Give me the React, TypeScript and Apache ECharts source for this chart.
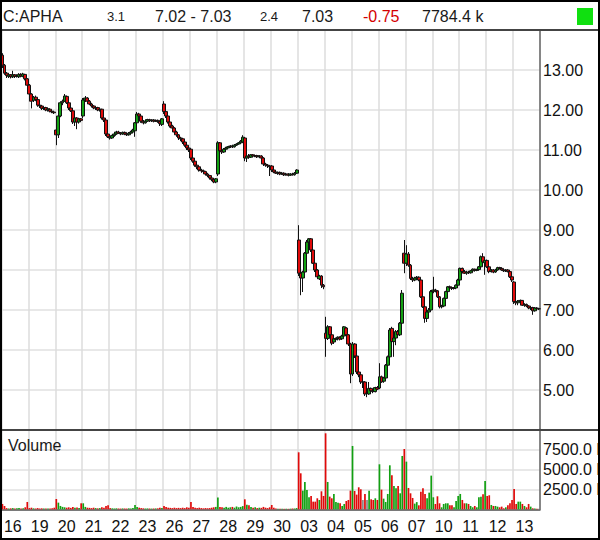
import React, { useEffect, useRef } from 'react';
import * as echarts from 'echarts';

// Trading-day labels shown under the chart (one per day, 13 intraday bars each)
const dayLabels = ['16', '19', '20', '21', '22', '23', '26', '27', '28', '29', '30', '03', '04', '05', '06', '07', '10', '11', '12', '13'];
const barsPerDay = 13;

// Each bar: [open, close, low, high]
const ohlc: number[][] = [
  // 16
  [13.37, 13.12, 13.05, 13.42], [13.12, 12.92, 12.88, 13.15], [12.92, 12.86, 12.80, 12.95], [12.84, 12.88, 12.80, 12.92],
  [12.88, 12.83, 12.79, 12.90], [12.83, 12.88, 12.80, 12.98], [12.88, 12.84, 12.80, 12.90], [12.84, 12.86, 12.81, 12.89],
  [12.83, 12.89, 12.80, 12.92], [12.89, 12.85, 12.82, 12.92], [12.84, 12.90, 12.82, 12.93], [12.89, 12.78, 12.74, 12.90],
  [12.78, 12.62, 12.58, 12.80],
  // 19
  [12.62, 12.40, 12.35, 12.65], [12.40, 12.22, 12.04, 12.42], [12.24, 12.32, 12.20, 12.35], [12.32, 12.26, 12.22, 12.36],
  [12.26, 12.12, 12.08, 12.28], [12.12, 12.10, 12.05, 12.16], [12.10, 12.04, 12.00, 12.12], [12.04, 12.06, 12.00, 12.09],
  [12.06, 12.00, 11.97, 12.08], [12.00, 12.03, 11.96, 12.05], [12.02, 11.97, 11.94, 12.04], [11.97, 11.95, 11.92, 12.00],
  [11.95, 11.93, 11.90, 11.98],
  // 20
  [11.50, 11.38, 11.12, 11.55], [11.38, 11.85, 11.30, 11.90], [11.85, 12.18, 11.82, 12.22], [12.18, 12.22, 12.12, 12.26],
  [12.22, 12.35, 12.20, 12.40], [12.34, 12.18, 12.15, 12.36], [12.18, 12.05, 12.00, 12.20], [12.05, 11.98, 11.95, 12.08],
  [11.98, 11.70, 11.65, 12.00], [11.70, 11.80, 11.60, 11.82], [11.80, 11.70, 11.52, 11.82], [11.70, 11.78, 11.66, 11.80],
  [11.78, 11.74, 11.70, 11.80],
  // 21
  [11.85, 12.25, 11.80, 12.30], [12.25, 12.30, 12.20, 12.35], [12.30, 12.22, 12.18, 12.32], [12.22, 12.15, 12.12, 12.25],
  [12.15, 12.10, 12.06, 12.18], [12.10, 12.05, 12.02, 12.12], [12.05, 12.06, 12.00, 12.09], [12.06, 12.00, 11.97, 12.08],
  [12.00, 12.02, 11.96, 12.04], [12.02, 11.80, 11.76, 12.03], [11.80, 11.75, 11.70, 11.82], [11.75, 11.40, 11.35, 11.76],
  [11.40, 11.33, 11.30, 11.43],
  // 22
  [11.33, 11.30, 11.26, 11.36], [11.30, 11.36, 11.28, 11.38], [11.36, 11.40, 11.33, 11.43], [11.40, 11.45, 11.38, 11.48],
  [11.45, 11.42, 11.40, 11.48], [11.42, 11.40, 11.37, 11.45], [11.40, 11.44, 11.38, 11.46], [11.44, 11.40, 11.37, 11.46],
  [11.40, 11.38, 11.35, 11.42], [11.38, 11.42, 11.36, 11.45], [11.42, 11.45, 11.40, 11.48], [11.45, 11.50, 11.43, 11.53],
  [11.48, 11.68, 11.33, 11.70],
  // 23
  [11.68, 11.90, 11.65, 11.95], [11.90, 11.85, 11.80, 11.93], [11.85, 11.72, 11.68, 11.87], [11.72, 11.68, 11.64, 11.75],
  [11.68, 11.72, 11.66, 11.75], [11.72, 11.76, 11.70, 11.78], [11.76, 11.73, 11.70, 11.78], [11.73, 11.75, 11.70, 11.77],
  [11.75, 11.72, 11.69, 11.77], [11.72, 11.74, 11.70, 11.76], [11.74, 11.71, 11.68, 11.76], [11.71, 11.66, 11.60, 11.73],
  [11.64, 11.78, 11.60, 11.80],
  // 26
  [12.15, 11.96, 11.90, 12.22], [11.96, 11.85, 11.80, 11.98], [11.85, 11.70, 11.66, 11.88], [11.70, 11.60, 11.56, 11.72],
  [11.60, 11.55, 11.50, 11.63], [11.55, 11.45, 11.40, 11.57], [11.45, 11.38, 11.33, 11.48], [11.38, 11.30, 11.25, 11.40],
  [11.30, 11.28, 11.22, 11.33], [11.28, 11.20, 11.15, 11.30], [11.20, 11.12, 11.08, 11.22], [11.12, 11.05, 11.00, 11.15],
  [11.05, 11.00, 10.95, 11.08],
  // 27
  [11.02, 10.80, 10.75, 11.04], [10.80, 10.72, 10.68, 10.83], [10.72, 10.62, 10.58, 10.75], [10.62, 10.58, 10.52, 10.65],
  [10.58, 10.50, 10.46, 10.60], [10.50, 10.48, 10.43, 10.53], [10.48, 10.46, 10.42, 10.51], [10.46, 10.40, 10.36, 10.48],
  [10.40, 10.36, 10.32, 10.43], [10.36, 10.30, 10.26, 10.38], [10.30, 10.26, 10.22, 10.33], [10.26, 10.20, 10.17, 10.28],
  [10.20, 10.28, 10.17, 10.30],
  // 28
  [10.40, 11.18, 10.35, 11.22], [11.18, 10.98, 10.95, 11.20], [10.98, 10.95, 10.90, 11.02], [10.95, 11.02, 10.93, 11.05],
  [11.02, 11.05, 11.00, 11.08], [11.05, 11.08, 11.03, 11.10], [11.08, 11.10, 11.05, 11.12], [11.10, 11.08, 11.05, 11.13],
  [11.08, 11.12, 11.06, 11.15], [11.12, 11.15, 11.10, 11.17], [11.15, 11.18, 11.13, 11.20], [11.18, 11.22, 11.16, 11.25],
  [11.20, 11.32, 11.18, 11.37],
  // 29
  [11.30, 10.80, 10.72, 11.32], [10.80, 10.85, 10.70, 10.88], [10.85, 10.82, 10.78, 10.90], [10.82, 10.88, 10.80, 10.90],
  [10.88, 10.85, 10.82, 10.90], [10.85, 10.86, 10.82, 10.88], [10.86, 10.83, 10.80, 10.88], [10.83, 10.85, 10.80, 10.87],
  [10.85, 10.80, 10.77, 10.87], [10.80, 10.65, 10.60, 10.82], [10.65, 10.62, 10.58, 10.68], [10.62, 10.60, 10.55, 10.65],
  [10.60, 10.58, 10.35, 10.62],
  // 30
  [10.60, 10.50, 10.45, 10.62], [10.50, 10.45, 10.42, 10.53], [10.45, 10.42, 10.40, 10.48], [10.42, 10.44, 10.38, 10.46],
  [10.44, 10.40, 10.37, 10.46], [10.40, 10.42, 10.38, 10.44], [10.42, 10.38, 10.35, 10.44], [10.38, 10.40, 10.36, 10.42],
  [10.40, 10.37, 10.34, 10.42], [10.37, 10.40, 10.35, 10.42], [10.40, 10.38, 10.36, 10.43], [10.38, 10.42, 10.36, 10.45],
  [10.42, 10.50, 10.40, 10.52],
  // 03
  [8.75, 7.92, 7.85, 9.12], [7.92, 7.80, 7.37, 7.97], [7.80, 7.95, 7.45, 7.98], [7.95, 8.42, 7.90, 8.45],
  [8.42, 8.70, 8.40, 8.75], [8.70, 8.78, 8.55, 8.80], [8.78, 8.50, 8.45, 8.80], [8.50, 8.17, 8.15, 8.52],
  [8.17, 8.00, 7.95, 8.20], [8.00, 7.83, 7.78, 8.02], [7.78, 7.85, 7.75, 7.88], [7.85, 7.62, 7.55, 7.87],
  [7.62, 7.58, 7.52, 7.65],
  // 04
  [6.42, 6.29, 5.83, 6.83], [6.29, 6.58, 6.25, 6.62], [6.58, 6.38, 6.35, 6.60], [6.38, 6.17, 6.12, 6.40],
  [6.20, 6.28, 6.15, 6.30], [6.26, 6.29, 6.22, 6.31], [6.29, 6.32, 6.24, 6.34], [6.32, 6.27, 6.24, 6.34],
  [6.28, 6.35, 6.25, 6.38], [6.35, 6.58, 6.33, 6.60], [6.55, 6.38, 6.35, 6.57], [6.38, 6.15, 6.10, 6.40],
  [6.15, 5.40, 5.17, 6.18],
  // 05
  [5.40, 6.15, 5.35, 6.20], [6.15, 5.85, 5.80, 6.17], [5.85, 5.45, 5.40, 5.88], [5.45, 5.38, 5.32, 5.50],
  [5.38, 5.20, 5.15, 5.42], [5.20, 5.20, 5.05, 5.22], [5.20, 4.90, 4.85, 5.22], [4.92, 4.92, 4.82, 5.06],
  [4.90, 5.04, 4.88, 5.20], [5.04, 4.98, 4.95, 5.06], [4.98, 4.96, 4.92, 5.00], [4.96, 5.06, 4.94, 5.08],
  [5.06, 5.02, 5.00, 5.10],
  // 06
  [5.05, 5.33, 5.02, 5.67], [5.33, 5.20, 5.18, 5.36], [5.22, 5.30, 5.18, 5.33], [5.30, 5.62, 5.28, 5.65],
  [5.62, 5.83, 5.55, 5.86], [5.83, 6.50, 5.80, 6.55], [6.54, 6.21, 6.18, 6.58], [6.21, 6.30, 5.83, 6.35],
  [6.30, 6.46, 6.12, 6.50], [6.46, 6.38, 6.35, 6.50], [6.38, 6.67, 6.35, 6.70], [6.67, 7.42, 6.65, 7.50],
  [8.42, 8.17, 7.92, 8.75],
  // 07
  [8.17, 8.40, 8.10, 8.62], [8.40, 8.12, 8.08, 8.45], [8.12, 7.79, 7.75, 8.15], [7.79, 7.75, 7.70, 7.83],
  [7.75, 7.80, 7.72, 7.83], [7.80, 7.82, 7.76, 7.85], [7.82, 7.75, 7.72, 7.84], [7.75, 7.33, 7.30, 7.78],
  [7.33, 7.08, 7.05, 7.36], [7.08, 6.79, 6.68, 7.10], [6.79, 6.95, 6.70, 6.98], [6.95, 7.00, 6.90, 7.05],
  [7.00, 7.46, 6.98, 7.50],
  // 10
  [7.46, 7.50, 7.42, 7.83], [7.50, 7.48, 7.44, 7.53], [7.48, 7.33, 7.30, 7.50], [7.33, 7.08, 7.04, 7.35],
  [7.08, 7.10, 7.04, 7.13], [7.10, 7.29, 7.08, 7.31], [7.29, 7.46, 7.27, 7.48], [7.46, 7.58, 7.44, 7.60],
  [7.58, 7.56, 7.53, 7.61], [7.56, 7.54, 7.50, 7.58], [7.54, 7.55, 7.51, 7.57], [7.55, 7.62, 7.52, 7.64],
  [7.62, 7.75, 7.60, 7.78],
  // 11
  [7.75, 8.04, 7.72, 8.06], [8.04, 7.96, 7.94, 8.06], [7.96, 7.92, 7.90, 8.00], [7.92, 7.95, 7.88, 7.98],
  [7.95, 7.93, 7.90, 7.98], [7.93, 7.98, 7.91, 8.00], [7.98, 8.02, 7.96, 8.04], [8.02, 7.99, 7.96, 8.03],
  [7.99, 8.01, 7.97, 8.03], [8.01, 8.08, 7.99, 8.10], [8.08, 8.33, 8.06, 8.36], [8.33, 8.20, 8.15, 8.42],
  [8.18, 8.24, 7.88, 8.28],
  // 12
  [8.24, 8.08, 8.05, 8.26], [8.08, 7.96, 7.92, 8.10], [7.96, 8.00, 7.94, 8.02], [8.00, 7.95, 7.92, 8.02],
  [7.95, 8.00, 7.93, 8.03], [8.00, 8.06, 7.98, 8.08], [8.06, 8.04, 8.01, 8.08], [8.04, 8.00, 7.98, 8.06],
  [8.00, 7.98, 7.95, 8.02], [7.98, 8.00, 7.95, 8.02], [8.00, 7.96, 7.94, 8.02], [7.96, 7.83, 7.80, 7.98],
  [7.83, 7.75, 7.70, 7.85],
  // 13
  [7.70, 7.21, 7.15, 7.72], [7.21, 7.18, 7.12, 7.25], [7.18, 7.22, 7.12, 7.25], [7.22, 7.24, 7.15, 7.26],
  [7.24, 7.12, 7.10, 7.25], [7.12, 7.14, 7.08, 7.17], [7.14, 7.10, 7.07, 7.16], [7.10, 7.05, 7.02, 7.12],
  [7.05, 7.06, 7.00, 7.08], [7.06, 6.98, 6.88, 7.08], [6.98, 7.05, 6.96, 7.07], [7.05, 7.03, 7.00, 7.07],
  [7.03, 7.03, 7.00, 7.05],
];

// Volume per bar, in thousands
const volumes: number[] = [
  667, 420, 150, 100, 120, 150, 100, 120, 150, 100, 130, 250, 917,
  150, 200, 120, 100, 150, 100, 120, 100, 90, 110, 100, 130, 200,
  1290, 833, 420, 300, 250, 200, 250, 180, 300, 200, 220, 150, 750,
  750, 300, 200, 180, 150, 200, 150, 120, 150, 250, 200, 400, 500,
  150, 120, 100, 120, 100, 90, 110, 100, 90, 120, 100, 150, 540,
  300, 200, 150, 120, 100, 110, 100, 90, 100, 110, 120, 200, 150,
  417, 300, 200, 180, 150, 200, 150, 180, 150, 200, 150, 250, 200,
  917, 300, 200, 150, 200, 150, 120, 150, 130, 150, 200, 250, 300,
  1460, 300, 250, 200, 300, 200, 250, 300, 200, 350, 250, 300, 400,
  1250, 583, 500, 300, 200, 250, 150, 200, 180, 300, 200, 150, 250,
  540, 200, 100, 80, 60, 80, 60, 70, 60, 80, 100, 100, 150,
  7125, 4500, 2333, 3417, 2417, 1500, 1667, 958, 958, 1375, 1167, 2250, 1667,
  9500, 3417, 1583, 1375, 1917, 917, 833, 750, 417, 667, 1040, 1167, 2333,
  7917, 2292, 1833, 2750, 2500, 1167, 1917, 1167, 2333, 1250, 1167, 1375, 1167,
  5625, 2458, 1333, 917, 1917, 5500, 4250, 2917, 2625, 2917, 2000, 6667, 7540,
  5958, 2667, 2000, 1417, 708, 900, 500, 2208, 2625, 1917, 1375, 2083, 4208,
  1500, 667, 1625, 750, 250, 667, 750, 750, 500, 500, 250, 1040, 1667,
  1917, 1167, 750, 750, 667, 417, 250, 417, 250, 1500, 1583, 1875, 3540,
  1667, 1750, 542, 417, 417, 333, 250, 333, 125, 250, 500, 750, 1167,
  2540, 667, 958, 958, 667, 417, 250, 667, 333, 125, 100, 80, 60,
];

// Axis ranges
const priceMin = 4;
const priceMax = 14;
const priceStep = 1;
const volMin = 0;
const volMax = 10000;
const volStep = 2500;

// Header quote fields
const symbol = 'C:APHA';
const bidSize = '3.1';
const bidAsk = '7.02 - 7.03';
const askSize = '2.4';
const lastPrice = '7.03';
const change = '-0.75';
const totalVolume = '7784.4 k';

const FONT = '"Liberation Sans", Arial, Helvetica, sans-serif';
const UP = '#12a012';
const DOWN = '#e00a0a';

export default function App() {
  const ref = useRef<HTMLDivElement>(null);

  useEffect(() => {
    if (!ref.current) return;
    const chart = echarts.init(ref.current, undefined, { renderer: 'svg' });
    const cats = ohlc.map((_, i) => dayLabels[Math.floor(i / barsPerDay)] + '|' + (i % barsPerDay));
    const gridLineStyle = { color: '#dcdcdc', width: 1.5 };
    const volData = volumes.map((v, i) => {
      const c = ohlc[i];
      const col = c[1] > c[0] ? UP : c[1] < c[0] ? DOWN : '#8a8a8a';
      return { value: v, itemStyle: { color: col } };
    });

    const headerText = (text: string, x: number, size: number, color = '#1a1a1a') => ({
      type: 'text',
      z: 100,
      style: {
        text, x, y: 16, fill: color, fontSize: size, fontFamily: FONT,
        textVerticalAlign: 'middle', verticalAlign: 'middle',
      },
    });

    chart.setOption({
      animation: false,
      backgroundColor: '#ffffff',
      textStyle: { fontFamily: FONT },
      grid: [
        { left: 1.4, right: 60, top: 30, height: 400, containLabel: false, outerBoundsMode: 'none' },
        { left: 1.4, right: 60, top: 429.3, height: 80, containLabel: false, outerBoundsMode: 'none' },
      ],
      xAxis: [
        {
          type: 'category', gridIndex: 0, data: cats, boundaryGap: true,
          axisLine: { show: false }, axisTick: { show: false }, axisLabel: { show: false },
          splitLine: { show: true, interval: (i: number) => i % barsPerDay === 0, lineStyle: gridLineStyle },
        },
        {
          type: 'category', gridIndex: 1, data: cats, boundaryGap: true,
          axisLine: { show: true, onZero: false, lineStyle: { color: '#555', width: 1.5 } },
          axisTick: { show: false },
          axisLabel: {
            interval: (i: number) => i % barsPerDay === 5,
            formatter: (v: string) => v.split('|')[0],
            fontSize: 16, color: '#111', margin: 9, fontFamily: FONT,
          },
          splitLine: { show: true, interval: (i: number) => i % barsPerDay === 0, lineStyle: gridLineStyle },
        },
      ],
      yAxis: [
        {
          type: 'value', gridIndex: 0, position: 'right', min: priceMin, max: priceMax, interval: priceStep,
          axisLine: { show: true, lineStyle: { color: '#666', width: 1.5 } },
          axisTick: { show: false },
          axisLabel: {
            formatter: (v: number) => v.toFixed(2), fontSize: 16, color: '#111', margin: 3,
            showMinLabel: false, showMaxLabel: false, fontFamily: FONT,
          },
          splitLine: { show: true, lineStyle: { color: '#e0e0e0', width: 1.5 } },
        },
        {
          type: 'value', gridIndex: 1, position: 'right', min: volMin, max: volMax, interval: volStep,
          axisLine: { show: true, lineStyle: { color: '#666', width: 1.5 } },
          axisTick: { show: false },
          axisLabel: {
            formatter: (v: number) => v.toFixed(1) + ' k', fontSize: 16, color: '#111', margin: 3,
            showMinLabel: false, showMaxLabel: false, fontFamily: FONT,
          },
          splitLine: { show: true, lineStyle: { color: '#e0e0e0', width: 1.5 } },
        },
      ],
      series: [
        {
          type: 'candlestick', xAxisIndex: 0, yAxisIndex: 0, data: ohlc, barWidth: 3.4,
          itemStyle: { color: UP, color0: DOWN, borderColor: '#111', borderColor0: '#111', borderWidth: 1 },
        },
        {
          type: 'bar', xAxisIndex: 1, yAxisIndex: 1, data: volData, barWidth: 1.7,
        },
      ],
      graphic: [
        headerText(symbol, 3, 16),
        headerText(bidSize, 107, 13),
        headerText(bidAsk, 155, 16),
        headerText(askSize, 260, 13),
        headerText(lastPrice, 302, 16),
        headerText(change, 363, 16, '#d40000'),
        headerText(totalVolume, 422, 16),
        { type: 'rect', z: 100, shape: { x: 577, y: 8, width: 16, height: 17 }, style: { fill: '#10e010' } },
        { type: 'line', z: 100, shape: { x1: 0, y1: 30, x2: 600, y2: 30 }, style: { stroke: '#444', lineWidth: 2 } },
        { type: 'line', z: 100, shape: { x1: 0, y1: 430, x2: 600, y2: 430 }, style: { stroke: '#444', lineWidth: 2 } },
        {
          type: 'text', z: 100,
          style: { text: 'Volume', x: 8, y: 445, fill: '#1a1a1a', fontSize: 16, fontFamily: FONT, textVerticalAlign: 'middle', verticalAlign: 'middle' },
        },
        { type: 'rect', z: 101, shape: { x: 1, y: 1, width: 598, height: 538 }, style: { fill: 'none', stroke: '#000', lineWidth: 2 } },
      ],
    });
    return () => chart.dispose();
  }, []);

  return (
    <div
      ref={ref}
      style={{ position: 'absolute', left: 0, top: 0, width: 600, height: 540, overflow: 'hidden', background: '#fff' }}
    />
  );
}
